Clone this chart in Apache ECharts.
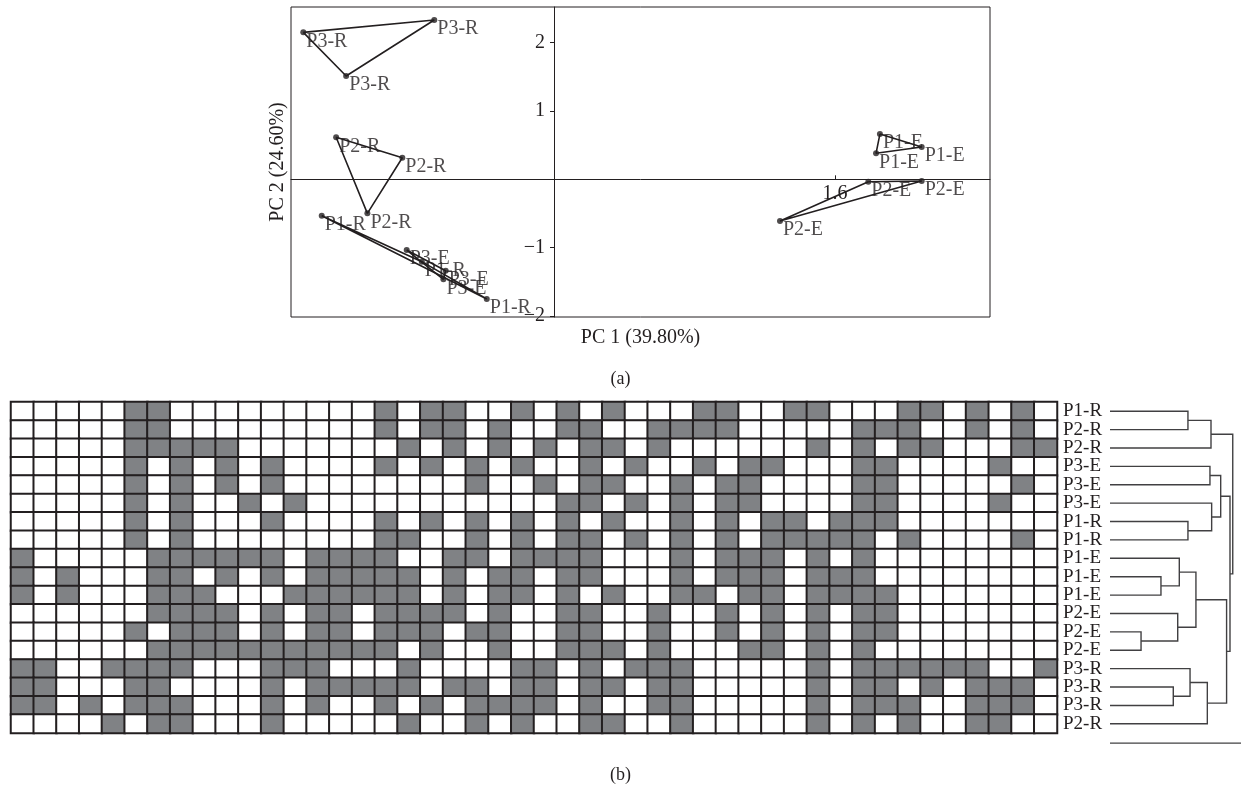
<!DOCTYPE html>
<html><head><meta charset="utf-8">
<script src="https://cdn.jsdelivr.net/npm/echarts@6/dist/echarts.min.js"></script>
<style>html,body{margin:0;padding:0;background:#fff}#c{width:1241px;height:786px}</style>
</head><body><div id="c"></div>
<script>
// ---------- PCA data (PC1, PC2) ----------
const P3R = [[-1.428, 2.152], [-0.682, 2.332], [-1.184, 1.513]];
const P2R = [[-1.241, 0.615], [-0.864, 0.316], [-1.063, -0.498]];
const P1R = [[-1.323, -0.533], [-0.753, -1.206], [-0.383, -1.753]];
const P3E = [[-0.839, -1.035], [-0.617, -1.338], [-0.630, -1.464]];
const P1E = [[1.856, 0.663], [2.094, 0.473], [1.834, 0.381]];
const P2E = [[1.790, -0.035], [2.094, -0.025], [1.287, -0.611]];
const PCA_GROUPS = [['P3-R', P3R], ['P2-R', P2R], ['P1-R', P1R], ['P3-E', P3E], ['P1-E', P1E], ['P2-E', P2E]];
const PC_Y_TICKS = [-2, -1, 1, 2];
const PC_X_TICKS = [1.6];

// ---------- Binary matrix (gray = present), 1-based column numbers ----------
const N_COLS = 46;
const ROW_LABELS = ['P1-R','P2-R','P2-R','P3-E','P3-E','P3-E','P1-R','P1-R','P1-E','P1-E','P1-E','P2-E','P2-E','P2-E','P3-R','P3-R','P3-R','P2-R'];
const PRESENT = [
  [6,7,17,19,20,23,25,27,31,32,35,36,40,41,43,45],
  [6,7,17,19,20,22,25,26,29,30,31,32,38,39,40,43,45],
  [6,7,8,9,10,18,20,22,24,26,27,29,36,38,40,41,45,46],
  [6,8,10,12,17,19,21,23,26,28,31,33,34,38,39,44],
  [6,8,10,12,21,24,26,27,30,32,33,38,39,45],
  [6,8,11,13,25,26,28,30,32,33,38,39,44],
  [6,8,12,17,19,21,23,25,27,30,32,34,35,37,38,39],
  [6,8,17,18,21,23,25,26,28,30,32,34,35,36,37,38,40,45],
  [1,7,8,9,10,11,12,14,15,16,17,20,21,23,24,25,26,30,32,33,34,36,38],
  [1,3,7,8,10,12,14,15,16,17,18,20,22,23,25,26,30,32,33,34,36,37,38],
  [1,3,7,8,9,13,14,15,16,17,18,20,22,23,25,27,30,31,33,34,36,37,38,39],
  [7,8,9,10,12,14,15,17,18,19,20,22,25,26,29,32,34,36,38,39],
  [6,8,9,10,12,14,15,17,18,19,21,22,25,26,29,32,34,36,38,39],
  [7,8,9,10,11,12,13,14,15,16,17,19,22,25,26,27,29,33,34,36,38],
  [1,2,5,6,7,8,12,13,14,18,23,24,26,28,29,30,36,38,39,40,41,42,43,46],
  [1,2,6,7,12,14,15,16,17,18,20,21,23,24,26,27,29,30,36,38,39,41,43,44,45],
  [1,2,4,6,7,8,12,14,17,19,21,22,23,24,26,29,30,36,38,39,40,43,44,45],
  [5,7,8,12,18,21,23,26,27,30,36,38,40,43,44]
];

// ---------- Dendrogram: [childA, childB, height]; leaves 0..17, merge k -> node 18+k ----------
const MERGES = [
  [6, 7, 0.595], [9, 10, 0.389], [12, 13, 0.237], [15, 16, 0.483],
  [0, 1, 0.595], [22, 2, 0.771], [3, 4, 0.763], [5, 18, 0.776],
  [24, 25, 0.845], [8, 19, 0.529], [11, 20, 0.517], [27, 28, 0.656],
  [14, 21, 0.611], [30, 17, 0.743], [29, 31, 0.890], [26, 32, 0.916],
  [23, 33, 0.937]
];
const SCALE_BAR = 1.0;

// ---------- build ----------
const FONT = 'Liberation Serif';
const INK = '#231f20';

const heatData = [];
PRESENT.forEach((cols, r) => {
  for (let c = 1; c <= N_COLS; c++) heatData.push([c - 1, r, cols.indexOf(c) >= 0 ? 1 : 0]);
});

const nodeY = ROW_LABELS.map((_, i) => i);
const nodeH = ROW_LABELS.map(() => 0);
const dendroLines = [];
MERGES.forEach(([a, b, h]) => {
  dendroLines.push({coords: [[nodeH[a], nodeY[a]], [h, nodeY[a]], [h, nodeY[b]], [nodeH[b], nodeY[b]]]});
  nodeY.push((nodeY[a] + nodeY[b]) / 2);
  nodeH.push(h);
});
dendroLines.push({coords: [[0, 18.05], [SCALE_BAR, 18.05]]});

const series = [];
PCA_GROUPS.forEach(([name, pts]) => {
  series.push({
    type: 'line', xAxisIndex: 0, yAxisIndex: 0, data: pts.concat([pts[0]]),
    symbol: 'none', lineStyle: {color: INK, width: 1.6}, silent: true, z: 2
  });
});
const scatterData = [];
PCA_GROUPS.forEach(([name, pts]) => pts.forEach(p => scatterData.push({name: name, value: p})));
series.push({
  type: 'scatter', xAxisIndex: 0, yAxisIndex: 0, data: scatterData, symbolSize: 6,
  itemStyle: {color: INK}, z: 3, silent: true,
  label: {show: true, formatter: p => p.name, position: [6, 12], align: 'left', verticalAlign: 'middle',
          fontFamily: FONT, fontSize: 20, color: INK}
});
const heatIndex = series.length;
series.push({
  type: 'heatmap', xAxisIndex: 1, yAxisIndex: 1, data: heatData,
  itemStyle: {borderColor: INK, borderWidth: 2}, emphasis: {disabled: true}, silent: true
});
series.push({
  type: 'lines', coordinateSystem: 'cartesian2d', xAxisIndex: 2, yAxisIndex: 2, polyline: true,
  data: dendroLines, lineStyle: {color: '#414042', width: 1.4, opacity: 1}, silent: true
});

const option = {
  animation: false,
  backgroundColor: '#fff',
  title: [
    {text: '(a)', left: 'center', top: 365, textStyle: {fontFamily: FONT, fontSize: 18, fontWeight: 'normal', color: INK}},
    {text: '(b)', left: 'center', top: 761, textStyle: {fontFamily: FONT, fontSize: 18, fontWeight: 'normal', color: INK}}
  ],
  grid: [
    {left: 291, top: 7, width: 699, height: 310, show: true, borderColor: INK, borderWidth: 1, backgroundColor: 'transparent'},
    {left: 11, top: 402, width: 1046, height: 331},
    {left: 1110, top: 402, width: 131, height: 349.4}
  ],
  xAxis: [
    {gridIndex: 0, type: 'value', min: -1.498, max: 2.483,
     axisLine: {onZero: true, lineStyle: {color: INK, width: 1}},
     axisTick: {customValues: PC_X_TICKS, inside: true, length: 4, lineStyle: {color: INK}},
     axisLabel: {customValues: PC_X_TICKS, margin: -133, fontFamily: FONT, fontSize: 20, color: INK},
     splitLine: {show: false},
     name: 'PC 1 (39.80%)', nameLocation: 'middle', nameGap: 11,
     nameTextStyle: {fontFamily: FONT, fontSize: 20, color: INK}},
    {gridIndex: 1, type: 'category', data: Array.from({length: N_COLS}, (_, i) => String(i + 1)), show: false},
    {gridIndex: 2, type: 'value', min: 0, max: 1, show: false}
  ],
  yAxis: [
    {gridIndex: 0, type: 'value', min: -2.016, max: 2.523,
     axisLine: {onZero: true, lineStyle: {color: INK, width: 1}},
     axisTick: {customValues: PC_Y_TICKS, length: 4, lineStyle: {color: INK}},
     axisLabel: {customValues: PC_Y_TICKS, margin: -254, fontFamily: FONT, fontSize: 20, color: INK,
                 formatter: v => String(v).replace('-', '\u2212')},
     splitLine: {show: false},
     name: 'PC 2 (24.60%)', nameLocation: 'middle', nameRotate: 90, nameGap: 3,
     nameTextStyle: {fontFamily: FONT, fontSize: 20, color: INK}},
    {gridIndex: 1, type: 'category', data: ROW_LABELS.map((_, i) => String(i)), inverse: true, position: 'right',
     axisLine: {show: false}, axisTick: {show: false},
     axisLabel: {interval: 0, margin: 6, fontFamily: FONT, fontSize: 19, color: INK, formatter: (v, i) => ROW_LABELS[i]}},
    {gridIndex: 2, type: 'value', min: -0.5, max: 18.5, inverse: true, show: false}
  ],
  visualMap: [{type: 'piecewise', show: false, seriesIndex: heatIndex, dimension: 2,
               pieces: [{value: 0, color: '#ffffff'}, {value: 1, color: '#808285'}]}],
  series: series
};
const chart = echarts.init(document.getElementById('c'), null, {renderer: 'canvas'});
chart.setOption(option);
</script></body></html>
